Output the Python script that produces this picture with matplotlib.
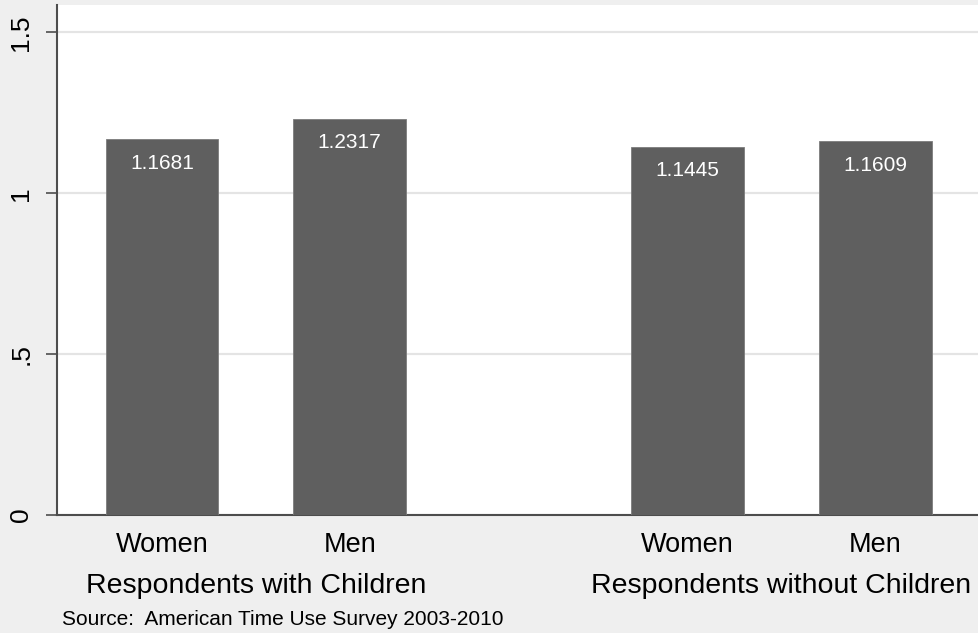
import matplotlib.pyplot as plt
import numpy as np

plt.rcParams['font.family'] = ['Liberation Sans', 'DejaVu Sans']

# values
groups = ["Respondents with Children", "Respondents without Children"]
sexes = ["Women", "Men"]
values = [[1.1681, 1.2317], [1.1445, 1.1609]]
yticks = [0, 0.5, 1, 1.5]
ytick_labels = ["0", ".5", "1", "1.5"]
source = "Source:  American Time Use Survey 2003-2010"

bg = "#efefef"
bar_color = "#5f5f5f"

fig = plt.figure(figsize=(9.79, 6.33), dpi=100, facecolor=bg)
ax = fig.add_axes([57 / 979, 118 / 633, 1 - 57 / 979, 510 / 633])
ax.set_facecolor("white")

# layout: bars 1 unit apart inside a group, groups 2.8 units apart
group_step = 2.8
width = 0.6
xs, labels = [], []
for g, grp in enumerate(groups):
    for i, sex in enumerate(sexes):
        x = g * group_step + i
        v = values[g][i]
        ax.bar(x, v, width=width, color=bar_color, edgecolor="#7c7c7c",
               linewidth=0.6, zorder=3)
        ax.annotate(f"{v:.4f}", xy=(x, v), xytext=(0, -21.4),
                    textcoords="offset points", ha="center", va="baseline",
                    color="white", fontsize=15, zorder=4)
        xs.append(x)
        labels.append(sex)
    center = g * group_step + (len(sexes) - 1) / 2
    ax.annotate(grp, xy=(center, 0), xycoords=("data", "axes fraction"),
                xytext=(0, -56.2), textcoords="offset points",
                ha="center", va="baseline", fontsize=20.5)

ax.set_xlim(-0.559, 4.353)
ax.set_ylim(0, 1.585)

ax.set_xticks(xs)
ax.set_xticklabels(labels, fontsize=19.5)
ax.tick_params(axis="x", length=0, pad=12)

ax.set_yticks(yticks)
ax.set_yticklabels(ytick_labels, rotation=90, va="center", fontsize=19)
ax.tick_params(axis="y", length=8, width=1.2, color="#4d4d4d", pad=9)

ax.grid(axis="y", color="#e4e4e4", linewidth=1.6, zorder=0)
ax.set_axisbelow(True)

for side in ["top", "right"]:
    ax.spines[side].set_visible(False)
for side in ["left", "bottom"]:
    ax.spines[side].set_color("#4d4d4d")
    ax.spines[side].set_linewidth(1.5)

fig.text(61.7 / 979, 8 / 633, source, ha="left", va="baseline", fontsize=15)

fig.savefig("out.png", dpi=100, facecolor=bg)
